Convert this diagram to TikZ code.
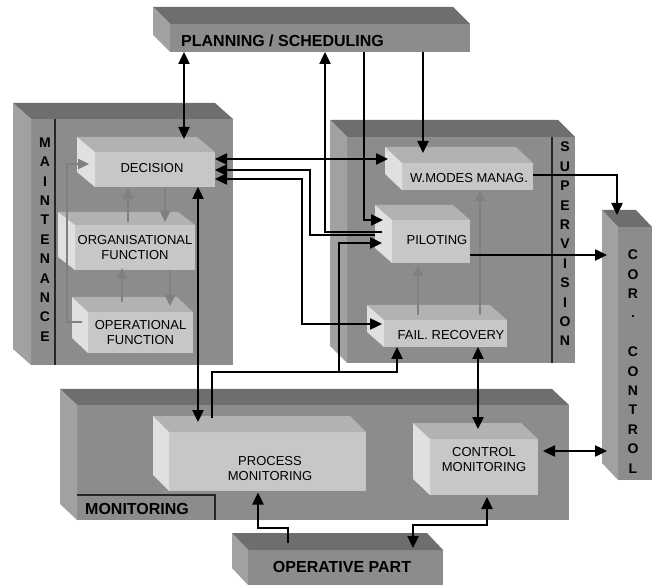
\documentclass[tikz,border=0pt]{standalone}
\usepackage{fontspec}
\setmainfont{Liberation Sans}
\usetikzlibrary{arrows.meta}

\definecolor{blockfront}{gray}{0.55}
\definecolor{blocktop}{gray}{0.43}
\definecolor{blockside}{gray}{0.63}
\definecolor{subfront}{gray}{0.78}
\definecolor{subtop}{gray}{0.70}
\definecolor{subside}{gray}{0.88}
\definecolor{garrow}{gray}{0.5}

\tikzset{
  blockbox/.style={fill=blockfront, inner sep=0pt, outer sep=0pt, anchor=north west},
  subbox/.style={fill=subfront, inner sep=0pt, outer sep=0pt, anchor=north west},
  blocktopface/.style={fill=blocktop},
  blocksideface/.style={fill=blockside},
  subtopface/.style={fill=subtop},
  subsideface/.style={fill=subside},
  boxtext/.style={font=\fontsize{13}{15}\selectfont, align=center, inner sep=0pt},
  bigtext/.style={font=\bfseries\fontsize{16}{19}\selectfont, inner sep=0pt},
  vtext/.style={font=\bfseries\fontsize{14}{19.4}\selectfont, align=center, inner sep=0pt},
  divider/.style={line width=1.2pt, black!85},
  link/.style={line width=2.4pt, -{Triangle[length=12pt,width=11pt]}},
  dlink/.style={line width=2.4pt, {Triangle[length=12pt,width=11pt]}-{Triangle[length=12pt,width=11pt]}},
  glink/.style={draw=garrow, line width=2.4pt, -{Triangle[length=11pt,width=10pt]}},
}

% top and left faces of a box drawn behind its front node
\newcommand{\cubefaces}[4]{%
  \path[#4topface] (#1.north west) -- ++(-#2,-#3) -- ([shift={(-#2,-#3)}]#1.north east) -- (#1.north east) -- cycle;
  \path[#4sideface] (#1.north west) -- ++(-#2,-#3) -- ([shift={(-#2,-#3)}]#1.south west) -- (#1.south west) -- cycle;
}

\begin{document}
\begin{tikzpicture}[x=1pt, y=-1pt]
  \useasboundingbox (0,0) rectangle (659,585);

  % Main blocks
  \node[blockbox, minimum width=300pt, minimum height=28pt] (plan) at (170,24) {};
  \node[blockbox, minimum width=202pt, minimum height=246pt] (maint) at (31,119) {};
  \node[blockbox, minimum width=228pt, minimum height=226pt] (sup) at (347,137) {};
  \node[blockbox, minimum width=34pt, minimum height=253pt] (cor) at (618,227) {};
  \node[blockbox, minimum width=492pt, minimum height=115pt] (mon) at (77,405) {};
  \node[blockbox, minimum width=195pt, minimum height=35pt] (op) at (248,550) {};
  \foreach \n/\dx/\dy in {plan/17/17, maint/18/16, sup/17/17, cor/16/17, mon/17/16, op/16/17}
    \cubefaces{\n}{\dx}{\dy}{block};

  % Block dividers
  \draw[divider] ([shift={(24,0)}]maint.north west) -- ([shift={(24,0)}]maint.south west);
  \draw[divider] ([shift={(-23,0)}]sup.north east) -- ([shift={(-23,0)}]sup.south east);
  \draw[divider] ([shift={(0,-25)}]mon.south west) -| ([shift={(138,0)}]mon.south west);

  % Functions inside the blocks
  \node[subbox, minimum width=120pt, minimum height=35pt, label={[boxtext, shift={(-3,-1.5)}]center:DECISION}] (dec) at (95,152) {};
  \node[subbox, minimum width=120pt, minimum height=45pt, label={[boxtext]center:ORGANISATIONAL\\FUNCTION}] (org) at (75,225) {};
  \node[subbox, minimum width=105pt, minimum height=41pt, label={[boxtext]center:OPERATIONAL\\FUNCTION}] (oper) at (88,312) {};
  \node[subbox, minimum width=131pt, minimum height=27pt, label={[boxtext, shift={(1.5,1.5)}]center:W.MODES MANAG.}] (wmm) at (402,163) {};
  \node[subbox, minimum width=78pt, minimum height=43pt, label={[boxtext, shift={(6,-1.5)}]center:PILOTING}] (pil) at (392,220) {};
  \node[subbox, minimum width=123pt, minimum height=27pt, label={[boxtext, shift={(5.5,1.5)}]center:FAIL. RECOVERY}] (fail) at (384,320) {};
  \node[subbox, minimum width=197pt, minimum height=59pt, label={[boxtext, shift={(2.5,7.5)}]center:PROCESS\\MONITORING}] (pm) at (169,432) {};
  \node[subbox, minimum width=108pt, minimum height=56pt, label={[boxtext, shift={(0,-7)}]center:CONTROL\\MONITORING}] (cm) at (430,439) {};
  \foreach \n/\dx/\dy in {dec/18/15, org/17/13, oper/16/15, wmm/17/16, pil/17/15, fail/17/15, pm/16/16, cm/17/16}
    \cubefaces{\n}{\dx}{\dy}{sub};

  % Block titles
  \node[bigtext, anchor=west] (plantxt) at (181,41) {PLANNING / SCHEDULING};
  \node[bigtext, anchor=west] (montxt) at (85,509) {MONITORING};
  \node[bigtext] (optxt) at (342,567) {OPERATIVE PART};
  \node[vtext] (maintxt) at (45,239.5) {M\\A\\I\\N\\T\\E\\N\\A\\N\\C\\E};
  \node[vtext] (suptxt) at (565,244) {S\\U\\P\\E\\R\\V\\I\\S\\I\\O\\N};
  \node[vtext] (cortxt) at (633,361.5) {C\\O\\R\\.\\\mbox{}\\C\\O\\N\\T\\R\\O\\L};

  % Internal flows (gray)
  \draw[glink] ([shift={(-7,-3)}]org.north) -- ([shift={(-27,1)}]dec.south);
  \draw[glink] ([shift={(10,0)}]dec.south) -- ([shift={(30,-3)}]org.north);
  \draw[glink] ([shift={(-18.5,-10)}]oper.north) -- ([shift={(-13,-2)}]org.south);
  \draw[glink] ([shift={(35,0)}]org.south) -- ([shift={(29.5,-6)}]oper.north);
  \draw[glink] ([shift={(-6,-10.5)}]oper.west) -- ++(-15,0) |- ([shift={(-6,-5.5)}]dec.west);
  \draw[glink] ([shift={(-27.5,-5)}]fail.north) -- ([shift={(-13,2)}]pil.south);
  \draw[glink] ([shift={(34.5,-5)}]fail.north) -- ([shift={(12.5,0)}]wmm.south);

  % Links between blocks
  \draw[dlink] ([shift={(-136,0)}]plan.south) -- ([shift={(29,-13)}]dec.north);
  \draw[link] ([shift={(-10,-9.5)}]pil.west) -| ([shift={(5,0)}]plan.south);
  \draw[link] ([shift={(44,0)}]plan.south) |- ([shift={(-9,-21.5)}]pil.west);
  \draw[link] ([shift={(103,0)}]plan.south) -- ([shift={(-44.5,-10)}]wmm.north);
  \draw[dlink] ([shift={(0,-10.5)}]dec.east) -- ([shift={(-14,-17.5)}]wmm.west);
  \draw[link] ([shift={(-17,-6.5)}]pil.west) -- ++(-65,0) |- ([shift={(0,0.5)}]dec.east);
  \draw[dlink] ([shift={(0,9.5)}]dec.east) -- ++(87,0) |- ([shift={(-2,-9.5)}]fail.west);
  \draw[dlink] ([shift={(43,0)}]dec.south) -- ([shift={(-69.5,-10)}]pm.north);
  \draw[link] ([shift={(-55.5,-14)}]pm.north) -- ++(0,-46) coordinate (bend) -| ([shift={(-48.5,0)}]fail.south);
  \draw[link] ([shift={(127,0)}]bend) |- ([shift={(-10,1.5)}]pil.west);
  \draw[dlink] ([shift={(32.5,0)}]fail.south) -- ([shift={(-6,-10)}]cm.north);
  \draw[link] ([shift={(0,-1.5)}]wmm.east) -| ([shift={(-18,-12)}]cor.north);
  \draw[link] ([shift={(0,13.5)}]pil.east) -- ([shift={(-11,-98.5)}]cor.west);
  \draw[dlink] ([shift={(5,-16)}]cm.east) -- ([shift={(-11,97.5)}]cor.west);
  \draw[link] ([shift={(-57.5,-7)}]op.north) -- ++(0,-15) -| ([shift={(-9.5,1.5)}]pm.south);
  \draw[dlink] ([shift={(3,2)}]cm.south) -- ++(0,28) -| ([shift={(67.5,-2)}]op.north);
\end{tikzpicture}
\end{document}
